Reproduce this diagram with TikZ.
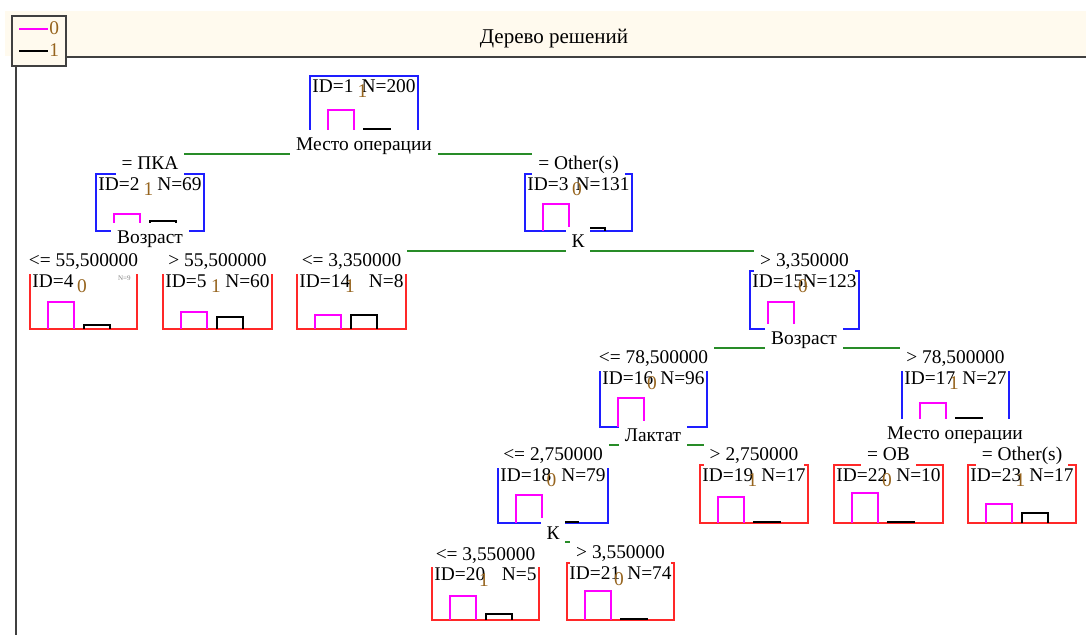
\documentclass[tikz,border=0pt]{standalone}
\usepackage{fontspec}
\setmainfont{Liberation Serif}
\usetikzlibrary{backgrounds}
\definecolor{treeblue}{RGB}{30,30,255}
\definecolor{treered}{RGB}{255,40,40}
\definecolor{treegreen}{RGB}{40,140,40}
\definecolor{barpink}{RGB}{255,0,255}
\definecolor{digitcol}{RGB}{150,100,30}
\definecolor{cream}{RGB}{255,250,238}
\definecolor{framegray}{RGB}{64,64,64}
\begin{document}
\begin{tikzpicture}[x=0.5pt, y=-0.5pt,
    treebox/.style={inner sep=0pt, outer sep=0pt, line width=0.9pt},
    lbl/.style={fill=white, inner xsep=3pt, inner ysep=0.5pt, font=\fontsize{9.7}{11}\selectfont, anchor=base},
    condlbl/.style={lbl, text height=10pt, text depth=3pt},
    splitlbl/.style={lbl, text height=9.75pt, text depth=2pt},
    idtxt/.style={inner sep=1pt, font=\fontsize{9.7}{11}\selectfont},
    clstxt/.style={inner sep=0pt, text=digitcol, font=\fontsize{9.7}{11}\selectfont},
    bar0/.style={draw=barpink, line width=0.9pt},
    bar1/.style={draw=black, line width=0.9pt},
    conn/.style={draw=treegreen, line width=0.9pt},
    frame/.style={draw=framegray, line width=1.2pt}]
\useasboundingbox (0,0) rectangle (1086,635);

% шапка окна
\fill[cream] (5,11) rectangle (1086,56);
\draw[frame] (65,57) -- (1086,57);
\draw[frame] (16,65) -- (16,635);
\node[font=\fontsize{10.5}{12}\selectfont, anchor=base] (title) at (554,44) {Дерево решений};

% легенда
\node[draw=framegray, fill=cream, line width=0.8pt, inner sep=0pt, anchor=north west,
      minimum width=27pt, minimum height=25pt] (legend) at (11,15) {};
\draw[bar0] (19,29) -- (48,29);
\node[clstxt, anchor=base west] (lg0) at (49,35) {0};
\draw[bar1] (19,51) -- (48,51);
\node[clstxt, anchor=base west] (lg1) at (49,57) {1};

% узлы дерева: номер / лево / верх / право / низ / цвет / N / класс / высоты столбиков
\foreach \i/\l/\t/\r/\b/\c/\N/\k/\hm/\hk in {
    1/310/76/418/131/treeblue/N=200/1/21/2,
    2/96/174/204/231/treeblue/N=69/1/17/10,
    3/525/174/632/231/treeblue/N=131/0/27/3,
    4/30/271/137/329/treered/{}/0/27/4,
    5/163/271/272/329/treered/N=60/1/17/12,
    14/297/271/406/329/treered/N=8/1/14/14,
    15/750/271/859/329/treeblue/N=123/0/27/0,
    16/600/368/707/427/treeblue/N=96/0/29/0,
    17/902/368/1009/421/treeblue/N=27/1/18/3,
    18/498/465/608/523/treeblue/N=79/0/28/1,
    19/700/465/808/523/treered/N=17/1/26/1,
    22/834/465/943/523/treered/N=10/0/30/1,
    23/968/465/1076/523/treered/N=17/1/19/10,
    20/432/564/539/620/treered/N=5/1/24/6,
    21/567/563/674/620/treered/N=74/0/29/1} {
    \node[treebox, draw=\c, anchor=north west, minimum width={(\r-\l)*0.5pt},
          minimum height={(\b-\t)*0.5pt}] (n\i) at (\l,\t) {};
    % столбики классов 0 и 1
    \draw[bar0] ([xshift=9pt]n\i.south west) -- ++(0,-\hm) -- ++(26,0) -- ++(0,\hm);
    \draw[bar1] ([xshift=27pt]n\i.south west) -- ++(0,-\hk) -- ++(26,0) -- ++(0,\hk);
    \node[idtxt, anchor=base west] (id\i) at ([yshift=-8.25pt]n\i.north west) {ID=\i};
    \node[idtxt, anchor=base east] (cnt\i) at ([yshift=-8.25pt]n\i.north east) {\N};
    \node[clstxt, anchor=base] (cl\i) at ([xshift=-0.75pt,yshift=-11pt]n\i.north) {\k};
}
\node[font=\fontsize{3.5}{4}\selectfont, text=gray, inner sep=0pt, anchor=north east] (cnt4b) at (131,275) {N=9};

% переменные разбиения
\node[splitlbl] (s1) at (364,151) {Место операции};
\node[splitlbl] (s2) at (150,244) {Возраст};
\node[splitlbl] (s3) at (578,248) {К};
\node[splitlbl] (s15) at (804,345) {Возраст};
\node[splitlbl] (s16) at (653,442) {Лактат};
\node[splitlbl] (s17) at (955,440) {Место операции};
\node[splitlbl] (s18) at (553,539) {К};

% условия ветвей
\node[condlbl] (c2) at ([yshift=2pt]n2.north) {= ПКА};
\node[condlbl] (c3) at ([yshift=2pt]n3.north) {= Other(s)};
\node[condlbl] (c4) at ([yshift=2pt]n4.north) {<= 55,500000};
\node[condlbl] (c5) at ([yshift=2pt]n5.north) {> 55,500000};
\node[condlbl] (c14) at ([yshift=2pt]n14.north) {<= 3,350000};
\node[condlbl] (c15) at ([yshift=2pt]n15.north) {> 3,350000};
\node[condlbl] (c16) at ([yshift=2pt]n16.north) {<= 78,500000};
\node[condlbl] (c17) at ([yshift=2pt]n17.north) {> 78,500000};
\node[condlbl] (c18) at ([yshift=2pt]n18.north) {<= 2,750000};
\node[condlbl] (c19) at ([yshift=2pt]n19.north) {> 2,750000};
\node[condlbl] (c22) at ([yshift=2pt]n22.north) {= ОВ};
\node[condlbl] (c23) at ([yshift=2pt]n23.north) {= Other(s)};
\node[condlbl] (c20) at ([yshift=2pt]n20.north) {<= 3,550000};
\node[condlbl] (c21) at ([yshift=2pt]n21.north) {> 3,550000};

% ветви (под подписями)
\begin{pgfonlayer}{background}
\foreach \p/\a/\b in {1/2/3, 2/4/5, 3/14/15, 15/16/17, 16/18/19, 17/22/23, 18/20/21} {
    \draw[conn] ([yshift=-1.5pt]s\p.base) -| (c\a);
    \draw[conn] ([yshift=-1.5pt]s\p.base) -| (c\b);
}
\end{pgfonlayer}
\end{tikzpicture}
\end{document}
